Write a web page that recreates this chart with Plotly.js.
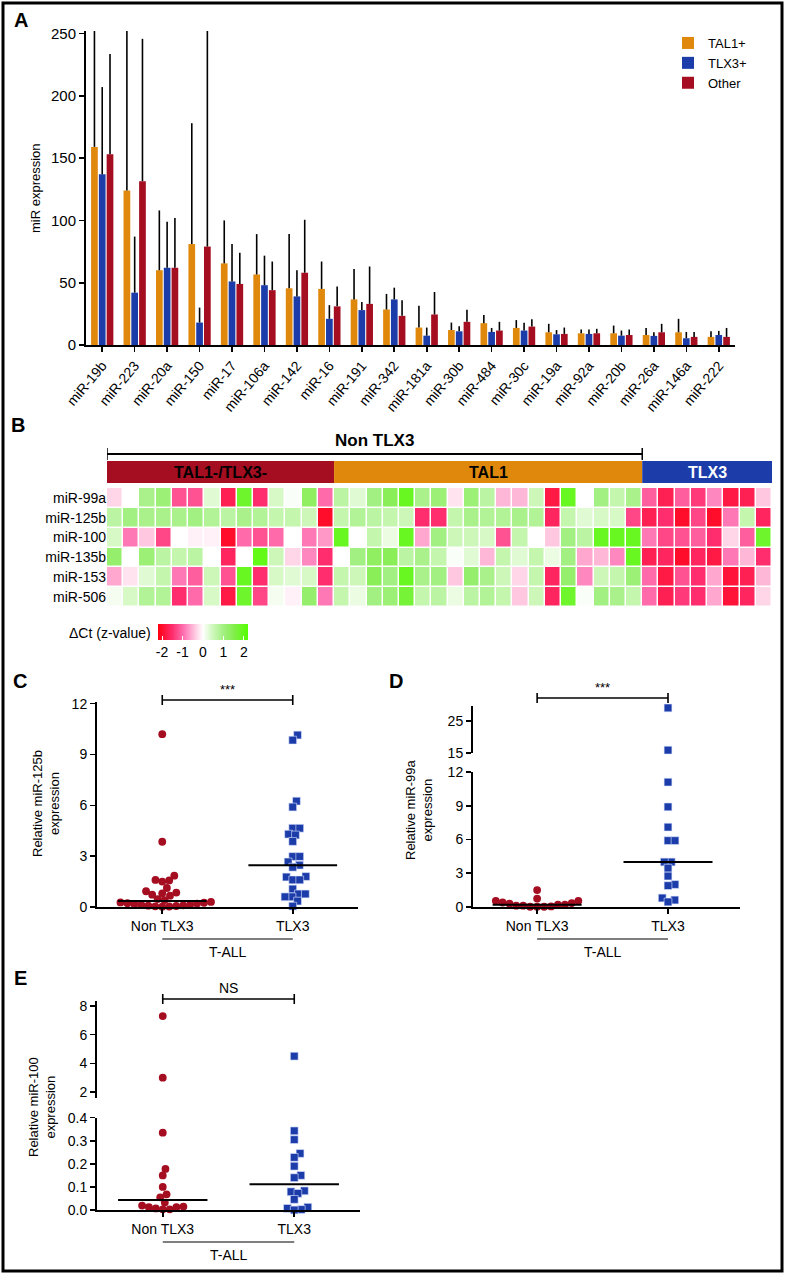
<!DOCTYPE html>
<html>
<head>
<meta charset="utf-8">
<script src="https://cdn.plot.ly/plotly-3.0.1.min.js"></script>
<style>html,body{margin:0;padding:0;background:#fff}</style>
</head>
<body>
<div id="fig" style="width:786px;height:1274px"></div>
<script>
var W = 786, H = 1274;
function px(x) { return x / W; }
function py(y) { return 1 - y / H; }

// ---- panel A: mean miR expression per subgroup (upper SD only)
var mirs = ['miR-19b','miR-223','miR-20a','miR-150','miR-17','miR-106a','miR-142','miR-16','miR-191','miR-342',
            'miR-181a','miR-30b','miR-484','miR-30c','miR-19a','miR-92a','miR-20b','miR-26a','miR-146a','miR-222'];
var tal1   = [159, 124, 60, 81, 65.5, 56.6, 45.5, 45, 36.6, 28.5, 14, 12, 17.5, 13.7, 10.2, 9.4, 9.4, 8, 10.2, 6.5];
var tal1Sd = [103, 134, 48, 97, 34.5, 32.4, 43.5, 22, 24.4, 12.5, 17.5, 6, 6.5, 6.3, 6.8, 3, 6.2, 5.7, 10.8, 4.5];
var tlx3   = [137, 42, 62, 18, 51, 48, 39, 21, 28, 36.6, 7.5, 11, 10.5, 11.6, 8.6, 8.9, 7.5, 7.3, 5.4, 8];
var tlx3Sd = [70, 45, 37, 12, 30, 23.7, 21, 11, 6.5, 9.4, 6.5, 4, 3.2, 6.2, 3.4, 3.5, 4.1, 2.9, 5.1, 3.3];
var other   = [153, 131.5, 62, 79, 49, 44, 58, 31, 33, 23.4, 24.5, 18.6, 11.6, 14.8, 8.9, 9.4, 8, 10.2, 6.5, 6.5];
var otherSd = [80.6, 114.2, 40, 183, 25, 23, 42.5, 16, 30, 12.6, 18, 9.7, 7, 5.9, 5.1, 3.6, 4.4, 6.8, 4, 7.2];

// ---- panel B: delta Ct z-values, 41 samples
var heatRows = ['miR-99a','miR-125b','miR-100','miR-135b','miR-153','miR-506'];
var z99a  = [-0.3,0,0.9,1.1,-1.2,-1.2,0.3,-1.7,1.8,-1.5,0.4,0.05,1.3,-1.0, 0.7,0.3,1.0,1.4,1.9,0.9,1.1,-0.2,1.1,0.7,-0.5,-0.5,0.5,-1.8, 1.9,0,1.0,0.6,0.9, -1.1,-1.7,-1.1,-1.4,-0.8,-1.8,-1.7,-0.4];
var z125b = [0.7,1.0,0.9,0.9,0.9,1.0,0.8,0.7,0.9,0.8,0.6,0.6,0.5,-2.0, 0.6,0.8,0.7,0.6,0.5,-1.5,-1.5,0.6,0.9,0.8,0.8,0.9,0.8,-1.6, 0.6,0.3,0.4,0.4,-1.3, -1.7,-1.5,-2.0,-1.3,-2.0,-0.9,0.6,-1.6];
var z100  = [0.4,-0.9,-0.4,-1.3,0,-0.1,-0.1,-2.0,-1.0,-1.2,-1.0,0,-0.9,-0.7, 1.9,0,0.6,0.2,1.9,-0.6,1.0,0.5,0.5,0.4,-1.2,0.6,0,-0.4, 1.0,0.7,1.9,1.9,1.9, -0.9,-1.3,-1.2,-1.1,-1.5,-0.3,-1.1,1.8];
var z135b = [1.2,0,1.1,0.7,0.6,0.7,0,-1.6,0,2.0,0.5,-0.3,-0.8,-1.5, 0,1.0,1.3,1.4,0.7,0.9,0.6,0.05,0.3,-0.5,0.6,0.3,0.6,0.2, 1.0,-0.6,-0.5,-0.8,1.9, -1.7,-1.6,-2.0,-1.6,-1.8,-0.9,-0.5,-1.5];
var z153  = [-0.6,-0.2,0.3,0.6,-0.9,-1.1,0.5,-1.2,1.9,-1.5,0.4,0.3,0.4,-1.5, 0.6,0.5,1.4,1.0,1.9,0.9,1.0,-0.4,1.2,0.9,0.5,-0.3,0.6,-1.6, 1.2,-0.8,0.5,0.6,1.1, -1.0,-1.8,-1.2,-1.5,-0.6,-1.9,-1.7,-0.5];
var z506  = [0.1,0.4,0.8,0.8,-1.5,-1.0,0.4,-1.8,1.8,-1.3,0.1,-0.1,1.2,-0.9, 0.6,0.2,1.0,1.1,1.7,0.6,0.7,0.2,0.7,0.8,0.6,-0.4,0.5,-1.6, 1.8,0.05,1.0,0.9,0.6, -1.0,-1.7,-1.4,-1.5,-0.6,-1.9,-1.6,-0.3];
var groupNames = ['TAL1-/TLX3-', 'TAL1', 'TLX3'];
var groupSizes = [14, 19, 8];

// ---- panels C, D, E: relative expression per sample
var catNames = ['Non TLX3', 'TLX3'];
var cNon = [10.2,3.85,1.85,1.6,1.57,1.5,1.12,0.93,0.85,0.81,0.73,0.67,0.47,0.41,0.3,0.27,0.25,0.22,0.2,0.17,0.14,0.12,0.1,0.08,0.06,0.04,0.03,0.02];
var cTlx = [10.15,9.85,6.25,5.9,4.65,4.65,4.3,4.25,3.87,2.98,2.98,2.66,2.47,2.35,1.8,1.77,1.6,1.6,1.06,0.77,0.77,0.6,0.6,0.35,0.05];
var dNon = [1.5,0.75,0.55,0.55,0.4,0.35,0.3,0.2,0.2,0.12,0.12,0.05,0.02,0.02,0.02];
var dTlx = [29.1,15.9,11.1,8.9,7.1,5.9,5.9,4.0,4.0,3.45,2.75,2.0,1.9,0.8,0.62,0.45];
var eNon = [7.3,3.0,0.335,0.178,0.15,0.1,0.068,0.055,0.032,0.019,0.015,0.012,0.012,0.007,0.003,0.003];
var eTlx = [4.5,0.343,0.305,0.245,0.228,0.19,0.15,0.14,0.083,0.079,0.072,0.046,0.012,0.007,0.002,0.0];

var orange = '#df880c', blue = '#1b3ca9', red = '#a50d20';
var narrow = 'Liberation Sans Narrow, Arial Narrow, sans-serif';

var data = [];
var shapes = [];
var annotations = [];

// text helper: centred on a point unless told otherwise
function note(o) {
  annotations.push(Object.assign({xref: 'paper', yref: 'paper', xanchor: 'center', yanchor: 'middle', showarrow: false}, o));
}

function barTrace(name, y, sd, color) {
  return {
    type: 'bar', name: name, x: mirs, y: y, xaxis: 'x', yaxis: 'y',
    marker: {color: color},
    error_y: {type: 'data', symmetric: false, array: sd, arrayminus: sd.map(function () { return 0; }),
              color: '#000', thickness: 1.6, width: 0}
  };
}
data.push(barTrace('TAL1+', tal1, tal1Sd, orange));
data.push(barTrace('TLX3+', tlx3, tlx3Sd, blue));
data.push(barTrace('Other', other, otherSd, red));

// heatmap
data.push({
  type: 'heatmap', z: [z99a, z125b, z100, z135b, z153, z506], y: heatRows,
  xaxis: 'x2', yaxis: 'y2', xgap: 1.5, ygap: 1.5, zmin: -2.2, zmax: 2.2, showlegend: false,
  colorscale: [[0,'#ff0010'],[0.16,'#ff2d6e'],[0.3,'#ff7ab8'],[0.42,'#ffcfe4'],[0.5,'#ffffff'],
               [0.6,'#d2f8c0'],[0.72,'#a4f084'],[0.85,'#80ee48'],[1,'#55ff00']],
  colorbar: {orientation: 'h', x: px(203), xanchor: 'center', y: py(624), yanchor: 'top',
             len: 90, lenmode: 'pixels', thickness: 16, thicknessmode: 'pixels', xpad: 0, ypad: 0,
             outlinewidth: 0, tickvals: [-2,-1,0,1,2], ticktext: ['-2','-1','0','1','2'],
             ticks: 'inside', ticklen: 4, tickcolor: '#fff', tickfont: {size: 14, color: '#000'}}
});

// group strip over the heatmap
var stripColors = [red, orange, blue];
var stripText = ['#000', '#000', '#fff'];
var start = 0;
groupSizes.forEach(function (n, i) {
  shapes.push({type: 'rect', xref: 'x2', yref: 'paper', x0: start - 0.5, x1: start + n - 0.5,
               y0: py(483), y1: py(461), fillcolor: stripColors[i], line: {width: 0}});
  note({xref: 'x2', x: start + (n - 1) / 2, y: py(472), text: '<b>' + groupNames[i] + '</b>',
        font: {size: 16, color: stripText[i]}});
  start += n;
});
var nonEnd = groupSizes[0] + groupSizes[1] - 0.5;
shapes.push({type: 'line', xref: 'x2', yref: 'paper', x0: -0.5, x1: nonEnd, y0: py(454), y1: py(454), line: {width: 2, color: '#000'}});
shapes.push({type: 'line', xref: 'x2', yref: 'paper', x0: -0.5, x1: -0.5, y0: py(448), y1: py(460), line: {width: 1.5, color: '#000'}});
shapes.push({type: 'line', xref: 'x2', yref: 'paper', x0: nonEnd, x1: nonEnd, y0: py(448), y1: py(460), line: {width: 1.5, color: '#000'}});
note({xref: 'x2', x: (nonEnd - 0.5) / 2, y: py(440), text: '<b>Non TLX3</b>', font: {size: 17}});
note({x: px(153), y: py(633), xanchor: 'right', text: 'ΔCt (z-value)', font: {size: 14}});

// simple beeswarm: place each point at the free offset closest to the centre
function swarm(vals, pxPerY, pxPerX, d) {
  var order = vals.map(function (v, i) { return i; }).sort(function (a, b) { return vals[a] - vals[b]; });
  var placed = [], out = new Array(vals.length);
  order.forEach(function (i) {
    var y = vals[i] * pxPerY;
    var near = placed.filter(function (p) { return Math.abs(p.y - y) < d; });
    var cands = [0];
    near.forEach(function (p) {
      var dx = Math.sqrt(d * d - (p.y - y) * (p.y - y));
      cands.push(p.x + dx, p.x - dx);
    });
    cands.sort(function (a, b) { return Math.abs(a) - Math.abs(b); });
    var x = cands.find(function (c) {
      return near.every(function (p) { return (p.x - c) * (p.x - c) + (p.y - y) * (p.y - y) >= d * d - 0.01; });
    });
    placed.push({x: x, y: y});
    out[i] = x / pxPerX;
  });
  return out;
}

function median(a) {
  var s = a.slice().sort(function (p, q) { return p - q; });
  var m = Math.floor(s.length / 2);
  return s.length % 2 ? s[m] : (s[m - 1] + s[m]) / 2;
}

// one dot panel; segs = y axis pieces (bottom first) for broken axes
function dotPanel(xa, xDom, xRange, segs, groups) {
  var pxPerX = (xDom[1] - xDom[0]) / (xRange[1] - xRange[0]);
  groups.forEach(function (g, ci) {
    segs.forEach(function (s, si) {
      var lo = si === 0 ? -Infinity : s.range[0];
      var hi = s.range[1];
      var vals = g.vals.filter(function (v) { return v >= lo && v <= hi; });
      if (!vals.length) return;
      var pxPerY = (s.dom[1] - s.dom[0]) / (s.range[1] - s.range[0]);
      var offs = swarm(vals, pxPerY, pxPerX, 7);
      data.push({type: 'scatter', mode: 'markers', xaxis: xa, yaxis: s.ya, showlegend: false, cliponaxis: false,
                 x: offs.map(function (o) { return ci + o; }), y: vals,
                 marker: {size: 7.8, color: g.color, symbol: g.symbol,
                          line: {width: g.symbol === 'square' ? 0.6 : 0, color: '#dde6ff'}}});
    });
    shapes.push({type: 'line', xref: xa, yref: segs[0].ya, x0: ci - 0.34, x1: ci + 0.34,
                 y0: median(g.vals), y1: median(g.vals), line: {width: 2, color: '#000'}});
  });
}

function bracket(xa, yPx, label, size) {
  shapes.push({type: 'line', xref: xa, yref: 'paper', x0: 0, x1: 1, y0: py(yPx), y1: py(yPx), line: {width: 1.6, color: '#000'}});
  shapes.push({type: 'line', xref: xa, yref: 'paper', x0: 0, x1: 0, y0: py(yPx - 5), y1: py(yPx + 5), line: {width: 1.6, color: '#000'}});
  shapes.push({type: 'line', xref: xa, yref: 'paper', x0: 1, x1: 1, y0: py(yPx - 5), y1: py(yPx + 5), line: {width: 1.6, color: '#000'}});
  note({xref: xa, x: 0.5, y: py(yPx - 1), yanchor: 'bottom', text: label, font: {size: size}});
}

function tall(xa, yPx) {
  shapes.push({type: 'line', xref: xa, yref: 'paper', x0: 0, x1: 1, y0: py(yPx), y1: py(yPx), line: {width: 1.2, color: '#000'}});
  note({xref: xa, x: 0.5, y: py(yPx + 13), text: 'T-ALL', font: {size: 14}});
}

function yTitle(xPx, yPx, text) {
  note({x: px(xPx), y: py(yPx), text: text, textangle: -90, font: {size: 13, family: narrow}});
}

// C
var cX = [97, 358], cXr = [-0.5, 1.5];
dotPanel('x3', cX, cXr, [{ya: 'y3', dom: [702, 907], range: [0, 12.1]}],
         [{vals: cNon, color: red, symbol: 'circle'}, {vals: cTlx, color: blue, symbol: 'square'}]);
bracket('x3', 700, '***', 13);
tall('x3', 939);
yTitle(46, 804, 'Relative miR-125b<br>expression');

// D (broken axis)
var dX = [473, 740], dXr = [-0.49, 1.55];
dotPanel('x4', dX, dXr, [{ya: 'y4', dom: [772, 907], range: [0, 12]}, {ya: 'y5', dom: [706, 753], range: [15, 29.7]}],
         [{vals: dNon, color: red, symbol: 'circle'}, {vals: dTlx, color: blue, symbol: 'square'}]);
bracket('x4', 698, '***', 13);
tall('x4', 939);
yTitle(419, 810, 'Relative miR-99a<br>expression');

// E (broken axis)
var eX = [97, 360], eXr = [-0.5, 1.5];
dotPanel('x5', eX, eXr, [{ya: 'y6', dom: [1117.7, 1210], range: [0, 0.4]}, {ya: 'y7', dom: [1001, 1098], range: [1.58, 8.35]}],
         [{vals: eNon, color: red, symbol: 'circle'}, {vals: eTlx, color: blue, symbol: 'square'}]);
bracket('x5', 999, 'NS', 14);
tall('x5', 1242);
yTitle(42, 1107, 'Relative miR-100<br>expression');

yTitle(36, 188, 'miR expression');

// panel letters
[['A', 21, 20], ['B', 18, 425], ['C', 20, 681], ['D', 396, 681], ['E', 20, 978]].forEach(function (l) {
  note({x: px(l[1]), y: py(l[2]), text: '<b>' + l[0] + '</b>', font: {size: 20}});
});

// outer frame
shapes.push({type: 'rect', xref: 'paper', yref: 'paper', x0: px(3), x1: px(782), y0: py(1271), y1: py(3), line: {width: 3, color: '#000'}});

var axLine = {showline: true, linewidth: 2, linecolor: '#000', ticks: 'outside', ticklen: 5, tickwidth: 1.6,
              tickcolor: '#000', showgrid: false, zeroline: false, tickfont: {size: 14}};
function ax(extra) { return Object.assign({}, axLine, extra); }
function yd(top, bottom) { return [py(bottom), py(top)]; }

var layout = {
  width: W, height: H, margin: {l: 0, r: 0, t: 0, b: 0},
  paper_bgcolor: '#fff', plot_bgcolor: 'rgba(0,0,0,0)',
  font: {family: 'Liberation Sans, Arial, sans-serif', color: '#000'},
  barmode: 'group', bargap: 0.28, bargroupgap: 0.14,
  legend: {x: px(668), y: py(28), xanchor: 'left', yanchor: 'top', font: {size: 13}, bgcolor: 'rgba(0,0,0,0)'},
  xaxis: ax({domain: [px(86), px(735)], anchor: 'y', type: 'category', tickangle: -50, tickfont: {size: 14}}),
  yaxis: ax({domain: yd(31, 345), anchor: 'x', range: [0, 252], tickvals: [0, 50, 100, 150, 200, 250], tickfont: {size: 15}}),
  xaxis2: {domain: [px(107), px(772)], anchor: 'y2', range: [-0.5, 40.5], visible: false},
  yaxis2: {domain: yd(488, 607), anchor: 'x2', type: 'category', autorange: 'reversed', showgrid: false,
           zeroline: false, showline: false, ticks: '', tickfont: {size: 14}},
  xaxis3: ax({domain: [px(cX[0]), px(cX[1])], anchor: 'y3', range: cXr, tickvals: [0, 1], ticktext: catNames}),
  yaxis3: ax({domain: yd(702, 907), anchor: 'x3', range: [0, 12.1], tickvals: [0, 3, 6, 9, 12]}),
  xaxis4: ax({domain: [px(dX[0]), px(dX[1])], anchor: 'y4', range: dXr, tickvals: [0, 1], ticktext: catNames}),
  yaxis4: ax({domain: yd(772, 907), anchor: 'x4', range: [0, 12], tickvals: [0, 3, 6, 9, 12]}),
  yaxis5: ax({domain: yd(706, 753), anchor: 'x4', range: [15, 29.7], tickvals: [15, 25]}),
  xaxis5: ax({domain: [px(eX[0]), px(eX[1])], anchor: 'y6', range: eXr, tickvals: [0, 1], ticktext: catNames}),
  yaxis6: ax({domain: yd(1117.7, 1210), anchor: 'x5', range: [0, 0.4], tickvals: [0, 0.1, 0.2, 0.3, 0.4], tickformat: '.1f'}),
  yaxis7: ax({domain: yd(1001, 1098), anchor: 'x5', range: [1.58, 8.35], tickvals: [2, 4, 6, 8]}),
  shapes: shapes,
  annotations: annotations
};

Plotly.newPlot('fig', data, layout, {displayModeBar: false, staticPlot: true});
</script>
</body>
</html>
